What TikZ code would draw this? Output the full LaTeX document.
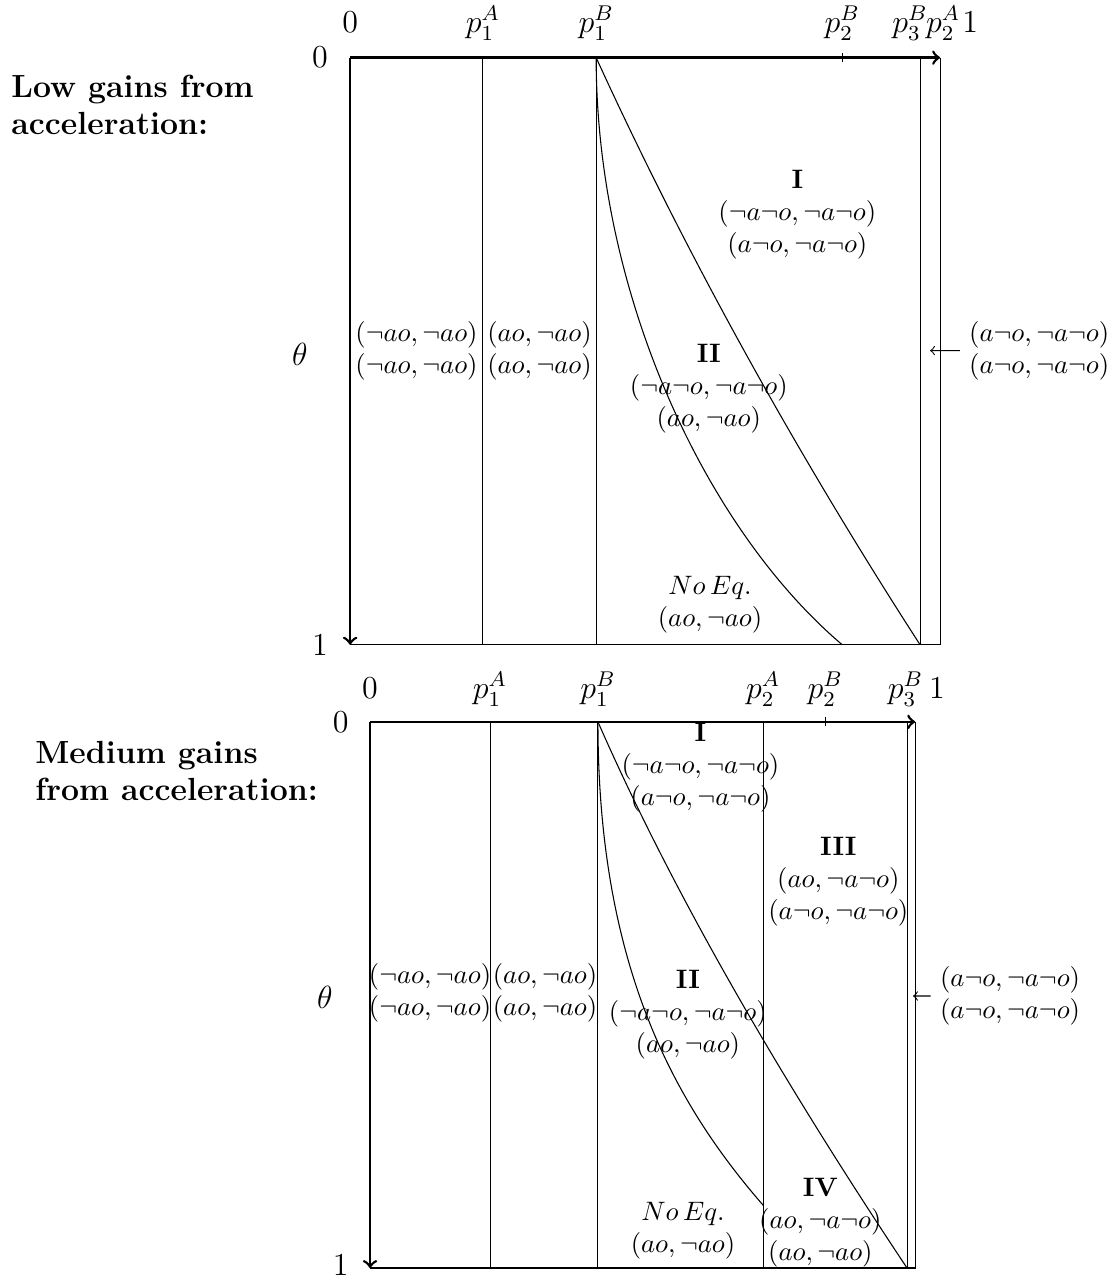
\documentclass[tikz,border=0pt]{standalone}
\usepackage{amsmath}
\usepackage{amssymb}
\usetikzlibrary{arrows.meta, positioning}

\begin{document}
\begin{tikzpicture}[>=to, thin, scale=0.962]
	% Define styles
	\tikzstyle{axis} = [draw, ->, line width=1pt]
	\tikzstyle{border} = [draw]
	\tikzstyle{toplabel} = [anchor=base, font=\large]
	\tikzstyle{sidelabel} = [anchor=east, font=\large]
	\tikzstyle{region} = [align=center]
	\tikzstyle{title} = [anchor=west, align=left, inner sep=0pt, font=\large\bfseries]
	\tikzstyle{line} = [draw, ->]

	\useasboundingbox (0,0) rectangle (15.30,17.53);

	% Low gains panel
	\begin{scope}[shift={(4.795cm,16.740cm)}, x=8.08cm, y=-8.04cm]
		% Title
		\node [title] (low_title) at (-0.575, 0.080) {Low gains from\\acceleration:};

		% Axes and box
		\draw [axis] (0,0) -- (1,0);
		\draw [axis] (0,0) -- (0,1);
		\draw [border] (0,1) -- (1,1) -- (1,0);

		% Thresholds
		\draw [border] (0.225,0) -- (0.225,1);
		\draw [border] (0.417,0) -- (0.417,1);
		\draw [border] (0.966,0) -- (0.966,1);
		\draw [border] (0.834,-0.008) -- (0.834,0.008);

		% Boundary curves
		\draw [border] (0.417,0) .. controls (0.417,0.4) and (0.6,0.8) .. (0.834,1);
		\draw [border] (0.417,0) .. controls (0.567,0.33) and (0.754,0.67) .. (0.966,1);

		% Axis labels
		\node [toplabel] (low_x0) at (0,-0.043) {$0$};
		\node [toplabel] (low_p1A) at (0.225,-0.043) {$p_1^A$};
		\node [toplabel] (low_p1B) at (0.417,-0.043) {$p_1^B$};
		\node [toplabel] (low_p2B) at (0.834,-0.043) {$p_2^B$};
		\node [toplabel] (low_p3B) at (0.949,-0.043) {$p_3^B$};
		\node [toplabel] (low_p2A) at (1.005,-0.043) {$p_2^A$};
		\node [toplabel] (low_x1) at (1.051,-0.043) {$1$};
		\node [sidelabel] (low_y0) at (-0.022,0) {$0$};
		\node [sidelabel] (low_y1) at (-0.022,1) {$1$};
		\node [font=\large] (low_theta) at (-0.085,0.506) {$\theta$};

		% Equilibria
		\node [region] (low_col1) at (0.1125,0.5) {$(\neg ao, \neg ao)$\\$(\neg ao, \neg ao)$};
		\node [region] (low_col2) at (0.321,0.5) {$(ao, \neg ao)$\\$(ao, \neg ao)$};
		\node [region] (low_regionI) at (0.758,0.267) {\textbf{I}\\$(\neg a\neg o, \neg a\neg o)$\\$(a\neg o, \neg a\neg o)$};
		\node [region] (low_regionII) at (0.608,0.564) {\textbf{II}\\$(\neg a\neg o, \neg a\neg o)$\\$(ao, \neg ao)$};
		\node [region] (low_noeq) at (0.610,0.932) {$No\,Eq.$\\$(ao, \neg ao)$};

		% Thin strip
		\node [region] (low_strip_label) at (1.168,0.499) {$(a\neg o, \neg a\neg o)$\\$(a\neg o, \neg a\neg o)$};
		\coordinate (low_strip) at (0.983,0.499);
		\draw [line] (low_strip_label) -- (low_strip);
	\end{scope}

	% Medium gains panel
	\begin{scope}[shift={(5.068cm,7.644cm)}, x=7.466cm, y=-7.48cm]
		% Title
		\node [title] (med_title) at (-0.615, 0.090) {Medium gains\\from acceleration:};

		% Axes and box
		\draw [axis] (0,0) -- (1,0);
		\draw [axis] (0,0) -- (0,1);
		\draw [border] (0,1) -- (1,1) -- (1,0);

		% Thresholds
		\draw [border] (0.2205,0) -- (0.2205,1);
		\draw [border] (0.418,0) -- (0.418,1);
		\draw [border] (0.721,0) -- (0.721,1);
		\draw [border] (0.985,0) -- (0.985,1);
		\draw [border] (0.835,-0.008) -- (0.835,0.008);

		% Boundary curves
		\draw [border] (0.418,0) .. controls (0.418,0.45) and (0.56,0.7) .. (0.721,0.885);
		\draw [border] (0.418,0) .. controls (0.563,0.33) and (0.765,0.67) .. (0.985,1);

		% Axis labels
		\node [toplabel] (med_x0) at (0,-0.043) {$0$};
		\node [toplabel] (med_p1A) at (0.220,-0.043) {$p_1^A$};
		\node [toplabel] (med_p1B) at (0.418,-0.043) {$p_1^B$};
		\node [toplabel] (med_p2A) at (0.721,-0.043) {$p_2^A$};
		\node [toplabel] (med_p2B) at (0.835,-0.043) {$p_2^B$};
		\node [toplabel] (med_p3B) at (0.982,-0.043) {$p_3^B$};
		\node [toplabel] (med_x1) at (1.040,-0.043) {$1$};
		\node [sidelabel] (med_y0) at (-0.022,0) {$0$};
		\node [sidelabel] (med_y1) at (-0.022,0.995) {$1$};
		\node [font=\large] (med_theta) at (-0.083,0.505) {$\theta$};

		% Equilibria
		\node [region] (med_col1) at (0.110,0.497) {$(\neg ao, \neg ao)$\\$(\neg ao, \neg ao)$};
		\node [region] (med_col2) at (0.321,0.497) {$(ao, \neg ao)$\\$(ao, \neg ao)$};
		\node [region] (med_regionI) at (0.606,0.084) {\textbf{I}\\$(\neg a\neg o, \neg a\neg o)$\\$(a\neg o, \neg a\neg o)$};
		\node [region] (med_regionIII) at (0.859,0.293) {\textbf{III}\\$(ao, \neg a\neg o)$\\$(a\neg o, \neg a\neg o)$};
		\node [region] (med_regionII) at (0.583,0.537) {\textbf{II}\\$(\neg a\neg o, \neg a\neg o)$\\$(ao, \neg ao)$};
		\node [region] (med_noeq) at (0.574,0.931) {$No\,Eq.$\\$(ao, \neg ao)$};
		\node [region] (med_regionIV) at (0.826,0.917) {\textbf{IV}\\$(ao, \neg a\neg o)$\\$(ao, \neg ao)$};

		% Thin strip
		\node [region] (med_strip_label) at (1.174,0.502) {$(a\neg o, \neg a\neg o)$\\$(a\neg o, \neg a\neg o)$};
		\coordinate (med_strip) at (0.996,0.502);
		\draw [line] (med_strip_label) -- (med_strip);
	\end{scope}

\end{tikzpicture}
\end{document}
